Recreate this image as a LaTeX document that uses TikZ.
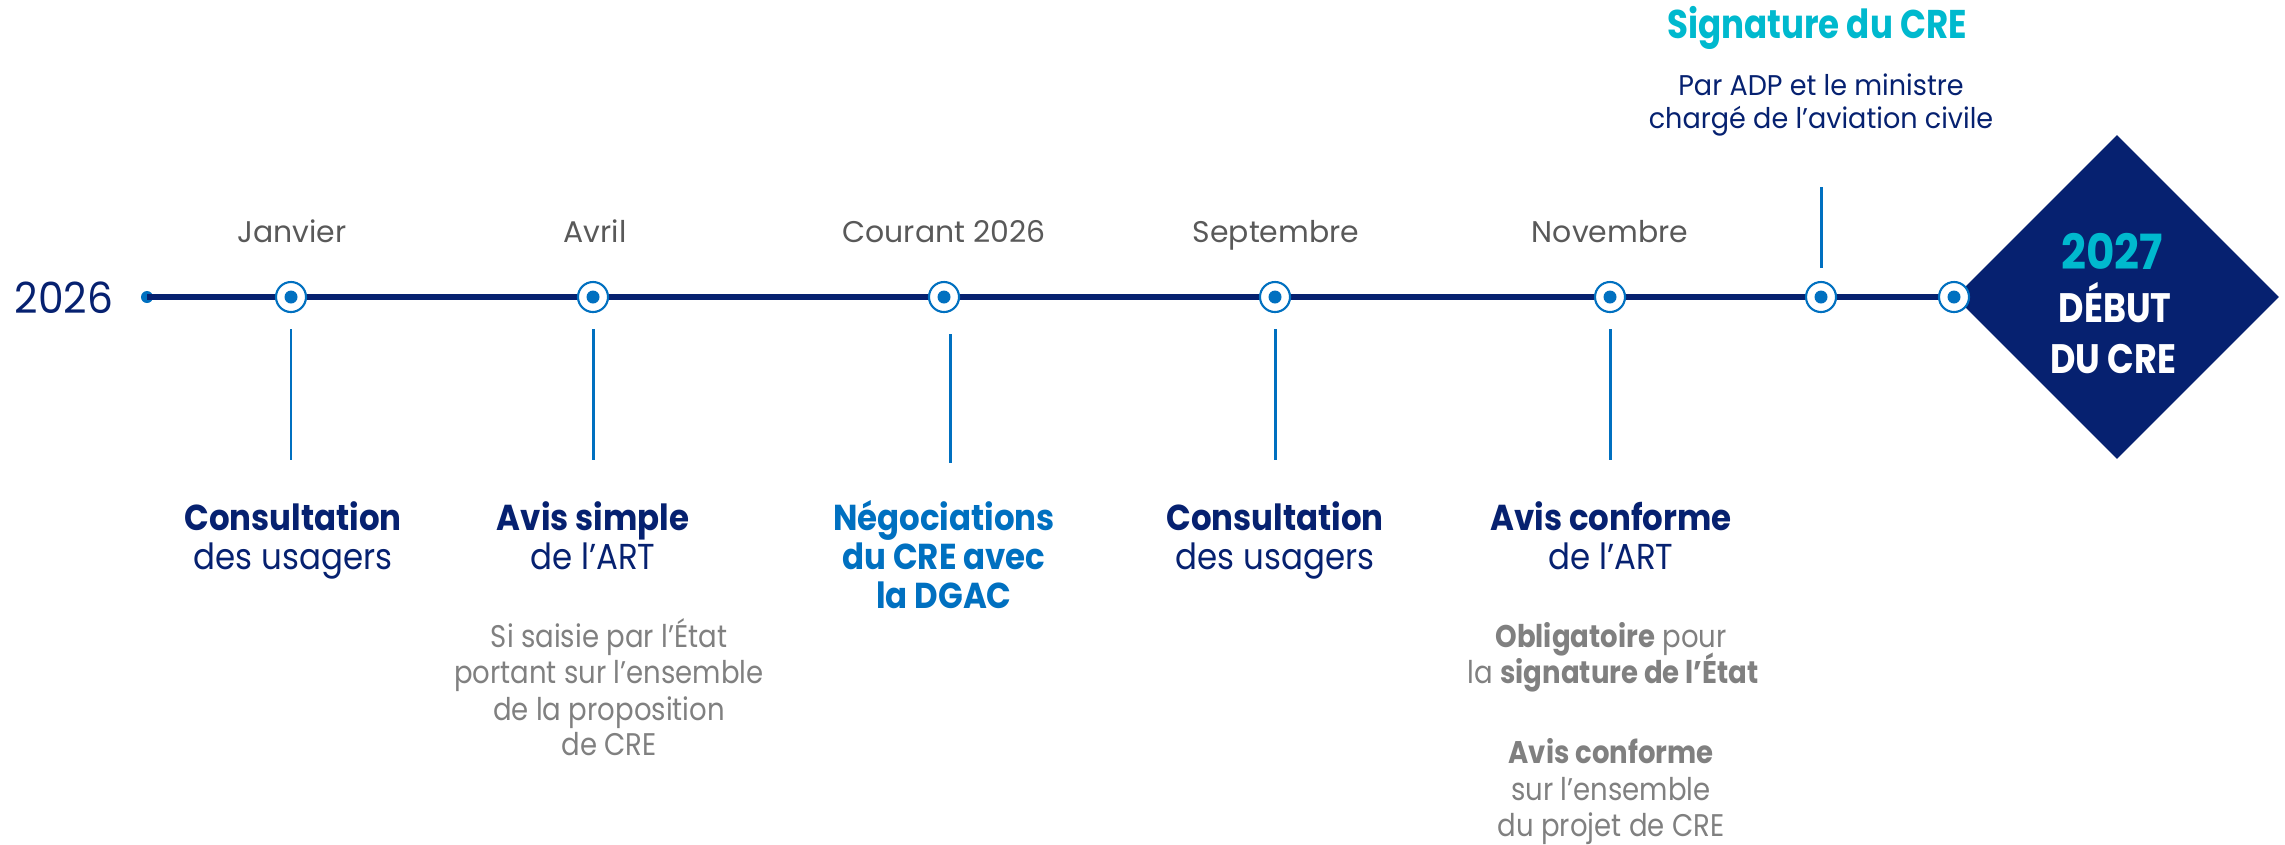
\documentclass[tikz,border=0pt]{standalone}
\usepackage{fontspec}
\setmainfont{Poppins}
\newfontfamily\fA[FakeStretch=0.9]{Poppins}
\newfontfamily\fB[FakeStretch=0.88]{Poppins}
\newfontfamily\fC[FakeStretch=0.85]{Poppins}
\newfontfamily\fD[FakeStretch=0.95]{Poppins}
\usetikzlibrary{shapes.geometric}
\definecolor{navy}{HTML}{062170}
\definecolor{blueB}{HTML}{0070C0}
\definecolor{cyanC}{HTML}{00B9CE}
\definecolor{gmonth}{HTML}{595959}
\definecolor{gnote}{HTML}{808080}
\newcommand{\fsz}[2]{\fontsize{#1}{#2}\selectfont}
\tikzset{
  tline/.style={line width=1.7pt, draw=navy},
  conn/.style={line width=0.85pt, draw=blueB},
  ms/.style={circle, draw=blueB, line width=0.6pt, fill=white, minimum size=0.3cm, inner sep=0pt},
  msdot/.style={circle, fill=blueB, minimum size=0.13cm, inner sep=0pt},
  month/.style={anchor=base, text=gmonth, font=\fsz{8.5}{9}},
  ttl/.style={anchor=base, text=navy, font=\fA\fsz{10.25}{11}\bfseries},
  ttlb/.style={anchor=base, text=blueB, font=\fA\fsz{10.25}{11}\bfseries},
  sub/.style={anchor=base, text=navy, font=\fA\fsz{10.25}{11}},
  note/.style={anchor=base, text=gnote, font=\fB\fsz{8.9}{10}},
  sig/.style={anchor=base, text=navy, font=\fD\fsz{8.1}{9}},
  dtext/.style={anchor=base, text=white, font=\fC\fsz{11.7}{12}\bfseries},
}
\begin{document}
\begin{tikzpicture}[x=0.01cm,y=-0.01cm]
\useasboundingbox (0,0) rectangle (2285,844);
% diamond
\node[diamond, fill=navy, minimum width=3.24cm, minimum height=3.24cm, inner sep=0pt, aspect=1] (dia) at (2117,297) {};
% start dot
\node[circle, fill=blueB, minimum size=0.12cm, inner sep=0pt] (s) at (147,297) {};
\node[anchor=base, text=navy, font=\fD\fsz{12.2}{13}] (y26) at (64,313) {2026};
% milestones
\coordinate (p1) at (291,297);
\coordinate (p2) at (593,297);
\coordinate (p3) at (944,297);
\coordinate (p4) at (1275,297);
\coordinate (p5) at (1610,297);
\coordinate (p6) at (1821,297);
\coordinate (p7) at (1954,297);
\draw[tline] (s.center) -- (p7);
\foreach \i in {1,...,7}{
  \node[ms] (m\i) at (p\i) {};
  \node[msdot] (d\i) at (p\i) {};
}
% months
\node[month] (t1) at (292,242) {Janvier};
\node[month] (t2) at (595,242) {Avril};
\node[month] (t3) at (944,242) {Courant 2026};
\node[month] (t4) at (1276,242) {Septembre};
\node[month] (t5) at (1610,242) {Novembre};
% connectors
\coordinate (c1a) at (291,329); \coordinate (c1b) at (291,460);
\coordinate (c2a) at (593,329); \coordinate (c2b) at (593,460);
\coordinate (c3a) at (950,334); \coordinate (c3b) at (950,463);
\coordinate (c4a) at (1275,329); \coordinate (c4b) at (1275,460);
\coordinate (c5a) at (1610,329); \coordinate (c5b) at (1610,460);
\coordinate (c6a) at (1821,187); \coordinate (c6b) at (1821,268);
\draw[conn] (c1a) -- (c1b);
\draw[conn] (c2a) -- (c2b);
\draw[conn] (c3a) -- (c3b);
\draw[conn] (c4a) -- (c4b);
\draw[conn] (c5a) -- (c5b);
\draw[conn] (c6a) -- (c6b);
% titles
\node[ttl] (a1) at (293,530) {Consultation};
\node[sub] (a2) at (293,569) {des usagers};
\node[ttl] (b1) at (593,530) {Avis simple};
\node[sub] (b2) at (593,569) {de l’ART};
\node[note] (b3) at (609,647) {Si saisie par l’État};
\node[note] (b4) at (609,683) {portant sur l’ensemble};
\node[note] (b5) at (609,720) {de la proposition};
\node[note] (b6) at (609,755) {de CRE};
\node[ttlb] (n1) at (944,530) {Négociations};
\node[ttlb] (n2) at (944,569) {du CRE avec};
\node[ttlb] (n3) at (944,608) {la DGAC};
\node[ttl] (e1) at (1275,530) {Consultation};
\node[sub] (e2) at (1275,569) {des usagers};
\node[ttl] (f1) at (1611,530) {Avis conforme};
\node[sub] (f2) at (1611,569) {de l’ART};
\node[note] (f3) at (1611,647) {\textbf{Obligatoire} pour};
\node[note] (f4) at (1613,683) {la \textbf{signature de l’État}};
\node[note] (f5) at (1611,763) {\textbf{Avis conforme}};
\node[note] (f6) at (1611,800) {sur l’ensemble};
\node[note] (f7) at (1611,836) {du projet de CRE};
% signature
\node[anchor=base, text=cyanC, font=\fC\fsz{11.4}{12}\bfseries] (g1) at (1817,38) {Signature du CRE};
\node[sig] (g2) at (1821,95) {Par ADP et le ministre};
\node[sig] (g3) at (1821,128) {chargé de l’aviation civile};
% diamond text
\node[anchor=base, text=cyanC, font=\fA\fsz{13.8}{14}\bfseries] (h1) at (2112,269) {2027};
\node[dtext] (h2) at (2115,322) {DÉBUT};
\node[dtext] (h3) at (2113,373) {DU CRE};
\end{tikzpicture}
\end{document}
